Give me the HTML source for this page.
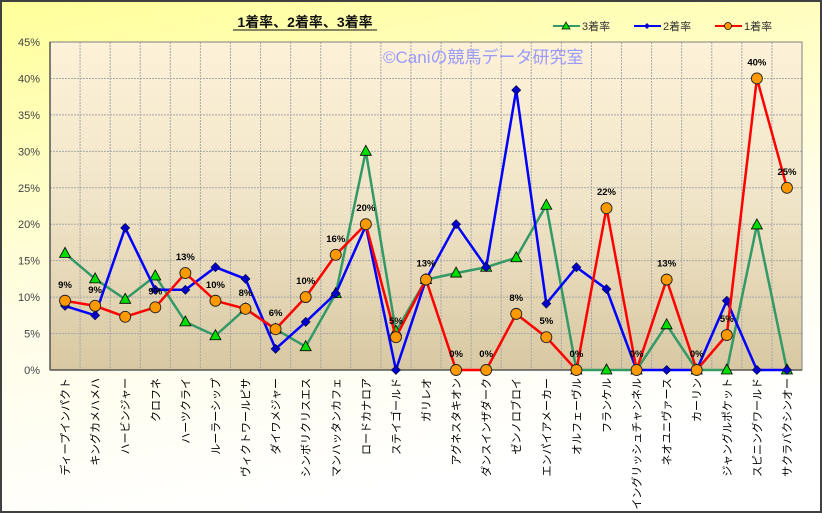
<!DOCTYPE html>
<html><head><meta charset="utf-8"><style>
html,body{margin:0;padding:0;background:#fff}
svg{display:block;font-family:"Liberation Sans","Noto Sans CJK JP",sans-serif}
</style></head><body>
<svg width="822" height="513" viewBox="0 0 822 513" xmlns="http://www.w3.org/2000/svg">
<defs>
<linearGradient id="bg" x1="0" y1="0" x2="0.3" y2="1"><stop offset="0" stop-color="#ffff99"/><stop offset="0.6" stop-color="#fffde8"/><stop offset="1" stop-color="#ffffff"/></linearGradient>
<linearGradient id="pa" x1="0" y1="0" x2="0" y2="1"><stop offset="0" stop-color="#fdf1d8"/><stop offset="0.5" stop-color="#f0e4c8"/><stop offset="1" stop-color="#d8c8a2"/></linearGradient>
</defs>
<rect x="1" y="1" width="820" height="511" fill="url(#bg)" stroke="#404040" stroke-width="2"/>
<rect x="50" y="42" width="752" height="328" fill="url(#pa)"/>
<g id="grid" stroke="#a8a8a8" stroke-width="1" stroke-dasharray="2,1"></g>
<rect x="50" y="42" width="752" height="328" fill="none" stroke="#808080"/>
<line x1="50" y1="42" x2="50" y2="370" stroke="#555" stroke-width="1.5"/>
<line x1="50" y1="370" x2="802" y2="370" stroke="#555" stroke-width="1.5"/>
<g id="ylab" font-size="11" fill="#444" text-anchor="end"></g>
<text x="305" y="27" font-size="14" font-weight="bold" text-anchor="middle" fill="#111">1着率、2着率、3着率</text>
<line x1="233" y1="30" x2="377" y2="30" stroke="#111" stroke-width="1"/>
<text x="383" y="63" font-size="17" fill="#9999ff">©Caniの競馬データ研究室</text>
<g font-size="11" fill="#333">
<line x1="553" y1="26" x2="580" y2="26" stroke="#339966" stroke-width="2"/><polygon points="566,22 570,29 562,29" fill="#00dd00" stroke="#000" stroke-width="0.7"/><text x="582" y="30">3着率</text>
<line x1="634" y1="26" x2="661" y2="26" stroke="#0000ff" stroke-width="2"/><polygon points="647,23 650,26 647,29 644,26" fill="#0000cc"/><text x="663" y="30">2着率</text>
<line x1="715" y1="26" x2="742" y2="26" stroke="#ff0000" stroke-width="2"/><circle cx="728" cy="26" r="3.5" fill="#ff9900" stroke="#000" stroke-width="0.7"/><text x="744" y="30">1着率</text>
</g>
<g id="series"></g>
<g id="xlab" font-size="11" fill="#000"></g>
</svg>
<script>
const NS="http://www.w3.org/2000/svg";
function el(t,a,p,txt){const e=document.createElementNS(NS,t);for(const k in a)e.setAttribute(k,a[k]);if(txt!=null)e.textContent=txt;p.appendChild(e);return e;}
const X=i=>50+30.08*(i+0.5), Y=v=>370-v*7.289;
const g=document.getElementById('grid');
for(let k=1;k<25;k++){const x=50+30.08*k;el('line',{x1:x,y1:42,x2:x,y2:370},g);}
for(let k=1;k<9;k++){const y=Y(k*5);el('line',{x1:50,y1:y,x2:802,y2:y},g);}
const yl=document.getElementById('ylab');
for(let k=0;k<=9;k++)el('text',{x:40,y:Y(k*5)+4},yl,(k*5)+'%');
const names=["ディープインパクト","キングカメハメハ","ハービンジャー","クロフネ","ハーツクライ","ルーラーシップ","ヴィクトワールピサ","ダイワメジャー","シンボリクリスエス","マンハッタンカフェ","ロードカナロア","ステイゴールド","ガリレオ","アグネスタキオン","ダンスインザダーク","ゼンノロブロイ","エンパイアメーカー","オルフェーヴル","フランケル","イングリッシュチャンネル","ネオユニヴァース","カーリン","ジャングルポケット","スピニングワールド","サクラバクシンオー"];
const xl=document.getElementById('xlab');
names.forEach((n,i)=>{const x=X(i)+4;el('text',{x:0,y:0,transform:`translate(${x},378) rotate(-90)`,'text-anchor':'end'},xl,n);});
const g3=[16,12.5,9.7,12.9,6.6,4.7,8.4,5.6,3.2,10.5,30,5.3,12.4,13.3,14.1,15.4,22.6,0,0,0,6.2,0,0,19.9,0];
const g2=[8.8,7.5,19.5,11,11,14.1,12.5,2.9,6.6,10.5,19.8,0,12.4,20,14.1,38.4,9.1,14.1,11.1,0,0,0,9.5,0,0];
const g1=[9.5,8.8,7.3,8.6,13.3,9.5,8.4,5.6,10,15.8,20,4.5,12.4,0,0,7.7,4.5,0,22.2,0,12.4,0,4.8,40,25];
const lab=["9%","9%","","9%","13%","10%","8%","6%","10%","16%","20%","5%","13%","0%","0%","8%","5%","0%","22%","0%","13%","0%","5%","40%","25%"];
const s=document.getElementById('series');
const pts=a=>a.map((v,i)=>X(i).toFixed(1)+','+Y(v).toFixed(1)).join(' ');
el('polyline',{points:pts(g3),fill:'none',stroke:'#339966','stroke-width':2.5},s);
g3.forEach((v,i)=>{const x=X(i),y=Y(v);el('polygon',{points:`${x},${y-6} ${x+5.5},${y+4} ${x-5.5},${y+4}`,fill:'#00dd00',stroke:'#000','stroke-width':0.8},s);});
el('polyline',{points:pts(g2),fill:'none',stroke:'#0000ff','stroke-width':2.5},s);
g2.forEach((v,i)=>{const x=X(i),y=Y(v);el('polygon',{points:`${x},${y-4.5} ${x+4.5},${y} ${x},${y+4.5} ${x-4.5},${y}`,fill:'#0000cc',stroke:'#000033','stroke-width':0.6},s);});
el('polyline',{points:pts(g1),fill:'none',stroke:'#ff0000','stroke-width':2.5},s);
g1.forEach((v,i)=>{const x=X(i),y=Y(v);el('circle',{cx:x,cy:y,r:5.5,fill:'#ff9900',stroke:'#222','stroke-width':0.9},s);
 if(lab[i])el('text',{x:x,y:y-13,'text-anchor':'middle','font-size':9.5,'font-weight':'bold',fill:'#000'},s,lab[i]);});
</script>
</body></html>
